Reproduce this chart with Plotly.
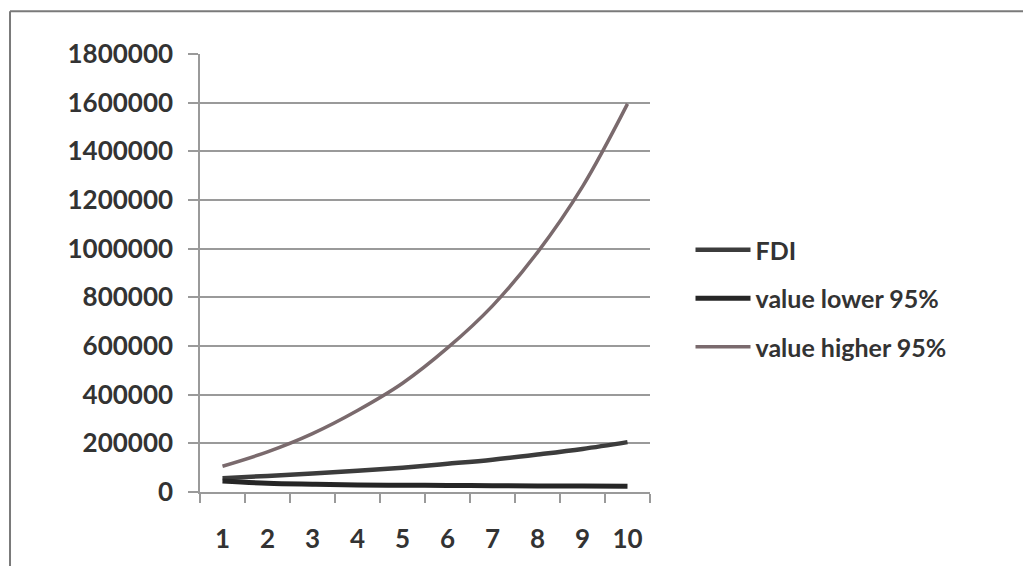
import plotly.graph_objects as go

periods = ["1", "2", "3", "4", "5", "6", "7", "8", "9", "10"]
fdi = [57000, 66000, 76000, 87000, 100000, 116000, 133000, 154000, 177000, 205000]
value_lower_95 = [45000, 36000, 32000, 29000, 28000, 27000, 26000, 25000, 25000, 24000]
value_higher_95 = [106000, 165000, 240000, 335000, 447000, 592000, 765000, 985000, 1255000, 1595000]
y_ticks = [0, 200000, 400000, 600000, 800000, 1000000, 1200000, 1400000, 1600000, 1800000]

FONT = "Lato"
TXT = "#333333"
GRID = "#9a9a9a"

fig = go.Figure()
fig.add_trace(go.Scatter(x=periods, y=fdi, name="FDI", mode="lines",
                         line=dict(color="#3c3c3c", width=4.5, shape="spline", smoothing=1.0),
                         legendgroup="a"))
fig.add_trace(go.Scatter(x=periods, y=value_lower_95, name="value lower 95%", mode="lines",
                         line=dict(color="#262626", width=5, shape="spline", smoothing=1.0),
                         legendgroup="b"))
fig.add_trace(go.Scatter(x=periods, y=value_higher_95, name="value higher 95%", mode="lines",
                         line=dict(color="#7a6a6d", width=3.5, shape="spline", smoothing=1.0),
                         legendgroup="c"))

fig.update_layout(
    width=1023, height=566,
    margin=dict(l=200, r=373, t=54, b=72),
    paper_bgcolor="white", plot_bgcolor="white",
    font=dict(family=FONT, color=TXT),
    showlegend=True,
    legend=dict(x=1.09, y=0.605, xanchor="left", yanchor="top",
                font=dict(size=25, color=TXT, family=FONT, weight="bold"),
                tracegroupgap=13, itemwidth=55, bgcolor="rgba(0,0,0,0)"),
    xaxis=dict(type="category", range=[-0.5, 9.5], showgrid=False,
               showline=True, linecolor=GRID, linewidth=1.5,
               ticks="outside", ticklen=9, tickcolor=GRID, tickwidth=1.5,
               tickson="boundaries", ticklabelstandoff=23,
               tickfont=dict(size=26, family=FONT, color=TXT, weight="bold")),
    yaxis=dict(range=[0, 1800000], tickvals=y_ticks,
               ticktext=[str(v) for v in y_ticks],
               showgrid=True, gridcolor=GRID, gridwidth=1.5,
               showline=True, linecolor=GRID, linewidth=1.5,
               ticks="outside", ticklen=10, tickcolor=GRID, tickwidth=1.5,
               ticklabelstandoff=10, zeroline=False,
               tickfont=dict(size=26, family=FONT, color=TXT, weight="bold")),
    shapes=[
        dict(type="line", xref="paper", yref="paper",
             x0=-0.4222, x1=-0.4222, y0=-0.2, y1=1.0977,
             line=dict(color="#7a7a7a", width=2), layer="below"),
        dict(type="line", xref="paper", yref="paper",
             x0=-0.4222, x1=1.83, y0=1.0977, y1=1.0977,
             line=dict(color="#7a7a7a", width=2), layer="below"),
    ],
)

fig.write_html("out.html")
